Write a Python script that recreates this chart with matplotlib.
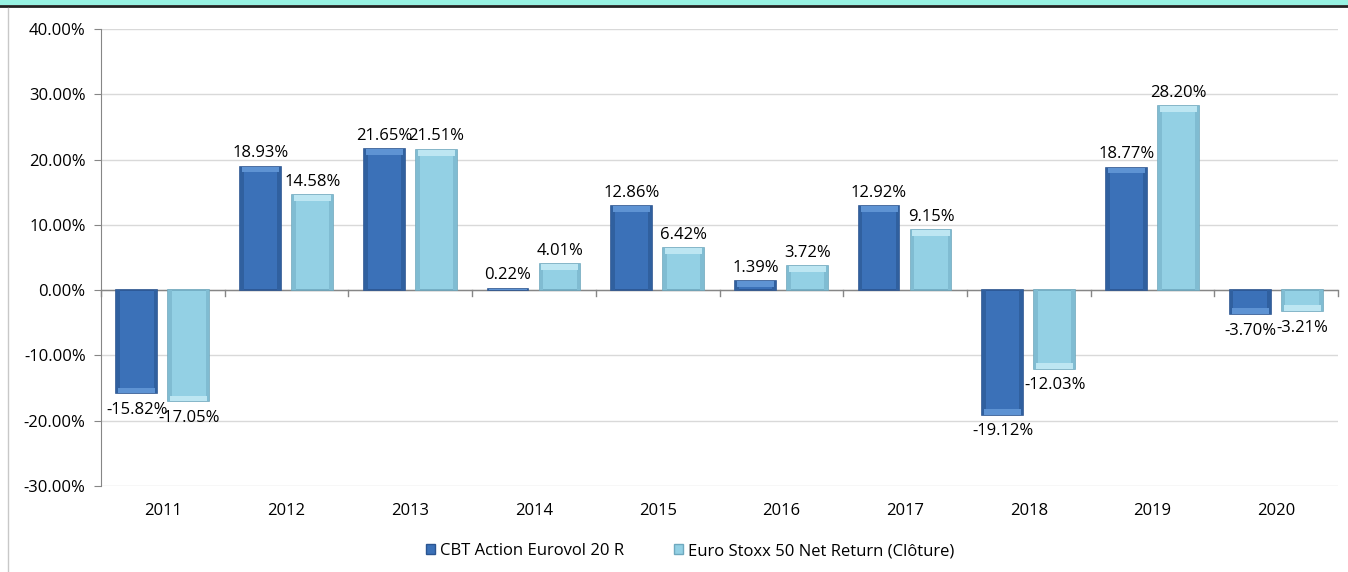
import numpy as np
import matplotlib
matplotlib.use('Agg')
import matplotlib.pyplot as plt
import matplotlib.ticker as ticker
from matplotlib.patches import Rectangle
from matplotlib.lines import Line2D

plt.rcParams['font.family'] = ['Open Sans', 'DejaVu Sans']

years = ['2011', '2012', '2013', '2014', '2015', '2016', '2017', '2018', '2019', '2020']
fund = [-15.82, 18.93, 21.65, 0.22, 12.86, 1.39, 12.92, -19.12, 18.77, -3.70]
index = [-17.05, 14.58, 21.51, 4.01, 6.42, 3.72, 9.15, -12.03, 28.20, -3.21]
series_names = ['CBT Action Eurovol 20 R', 'Euro Stoxx 50 Net Return (Clôture)']

dark = dict(face='#3b71b8', edge='#2b5591', top='#5e93d3', side='#30609f')
light = dict(face='#93d0e4', edge='#6fa9bf', top='#bde6f2', side='#80bcd2')

fig = plt.figure(figsize=(13.48, 5.72), dpi=100)
ax = fig.add_axes([101 / 1348, 1 - 486 / 572, 1237 / 1348, 457 / 572])

x = np.arange(len(years))
w = 0.33
off = 0.21
bevel = 0.9   # in % units, about 6 px
side = 0.03   # in category units

for vals, pos, st in [(fund, x - off, dark), (index, x + off, light)]:
    ax.bar(pos, vals, width=w, color=st['face'], edgecolor=st['edge'], linewidth=1.2, zorder=3)
    for xi, v in zip(pos, vals):
        h = min(bevel, abs(v)) * np.sign(v)
        # darker sides
        ax.add_patch(Rectangle((xi - w / 2, 0), side, v, facecolor=st['side'],
                               edgecolor='none', zorder=4))
        ax.add_patch(Rectangle((xi + w / 2 - side, 0), side, v, facecolor=st['side'],
                               edgecolor='none', zorder=4))
        # lighter strip at the outer end
        ax.add_patch(Rectangle((xi - w / 2 + 0.015, v - h), w - 0.03, h,
                               facecolor=st['top'], edgecolor='none', zorder=5))
        if v >= 0:
            ax.text(xi, v + 0.8, f'{v:.2f}%', ha='center', va='bottom', fontsize=12, zorder=6)
        else:
            ax.text(xi, v - 1.3, f'{v:.2f}%', ha='center', va='top', fontsize=12, zorder=6)

ax.set_ylim(-30, 40)
ax.set_xlim(-0.5, len(years) - 0.5)
ax.yaxis.set_major_locator(ticker.MultipleLocator(10))
ax.yaxis.set_major_formatter(ticker.FuncFormatter(lambda v, p: f'{v:.2f}%'))
ax.grid(axis='y', color='#d9d9d9', linewidth=1, zorder=0)
ax.set_axisbelow(True)

for s in ['top', 'right', 'bottom']:
    ax.spines[s].set_visible(False)
ax.spines['left'].set_color('#868686')
ax.axhline(0, color='#868686', linewidth=1, zorder=2)

ax.set_xticks(x)
ax.set_xticklabels(years)
ax.tick_params(axis='x', length=0, pad=12, labelsize=12)
ax.tick_params(axis='y', length=5, color='#868686', labelsize=12, pad=6)
for b in np.arange(len(years) + 1) - 0.5:
    ax.plot([b, b], [0, -0.9], color='#868686', linewidth=1, zorder=2, clip_on=False)

handles = [Rectangle((0, 0), 1, 1, facecolor=dark['face'], edgecolor=dark['edge']),
           Rectangle((0, 0), 1, 1, facecolor=light['face'], edgecolor=light['edge'])]
fig.legend(handles, series_names, loc='center', bbox_to_anchor=(0.512, 1 - 551 / 572),
           ncol=2, frameon=False, fontsize=12, handlelength=0.55, handleheight=0.55,
           handletextpad=0.3, columnspacing=3)

# teal band at the top and left frame line
fig.patches.append(Rectangle((0, 1 - 5 / 572), 1, 5 / 572, transform=fig.transFigure,
                             facecolor='#97f2e2', edgecolor='none'))
fig.lines.append(Line2D([0, 1], [1 - 6 / 572, 1 - 6 / 572], transform=fig.transFigure,
                        color='#222222', linewidth=2))
fig.lines.append(Line2D([8 / 1348, 8 / 1348], [0, 1 - 8 / 572], transform=fig.transFigure,
                        color='#c8c8c8', linewidth=1))

fig.savefig('out.png', dpi=100)
